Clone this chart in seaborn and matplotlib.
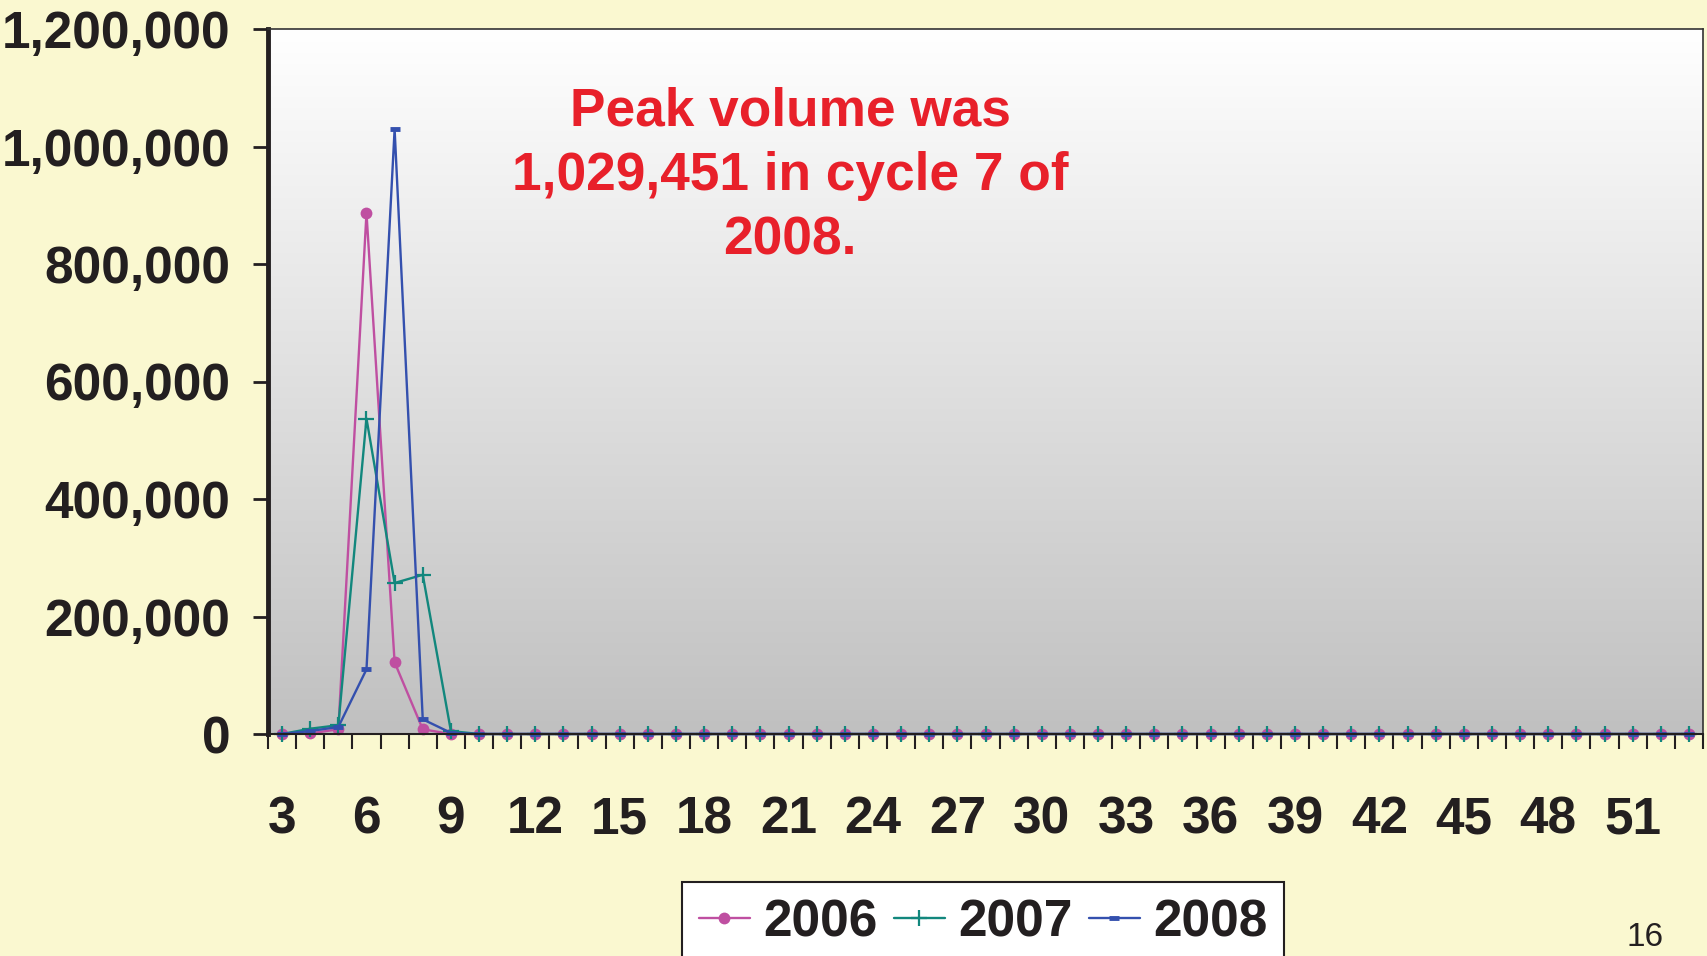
import numpy as np
import pandas as pd
import matplotlib
matplotlib.use("Agg")
import matplotlib.pyplot as plt
import seaborn as sns
from matplotlib.ticker import FuncFormatter, FixedLocator

sns.set_theme(style="white")
plt.rcParams['font.family'] = ['Liberation Sans', 'DejaVu Sans']

cycles = list(range(3, 54))
vol_2006 = [0, 1000, 8000, 887000, 122000, 8000, 0, 0, 0, 0, 0, 0, 0, 0, 0, 0, 0,
            0, 0, 0, 0, 0, 0, 0, 0, 0, 0, 0, 0, 0, 0, 0, 0, 0, 0, 0, 0, 0, 0, 0, 0,
            0, 0, 0, 0, 0, 0, 0, 0, 0, 0]
vol_2007 = [0, 9000, 15000, 537000, 257000, 271000, 5000, 0, 0, 0, 0, 0, 0, 0, 0, 0, 0,
            0, 0, 0, 0, 0, 0, 0, 0, 0, 0, 0, 0, 0, 0, 0, 0, 0, 0, 0, 0, 0, 0, 0, 0,
            0, 0, 0, 0, 0, 0, 0, 0, 0, 0]
vol_2008 = [0, 5000, 12000, 110000, 1029451, 25000, 2000, 0, 0, 0, 0, 0, 0, 0, 0, 0, 0,
            0, 0, 0, 0, 0, 0, 0, 0, 0, 0, 0, 0, 0, 0, 0, 0, 0, 0, 0, 0, 0, 0, 0, 0,
            0, 0, 0, 0, 0, 0, 0, 0, 0, 0]
years = ["2006", "2007", "2008"]
xtick_labels = list(range(3, 52, 3))
ytick_values = [0, 200000, 400000, 600000, 800000, 1000000, 1200000]
annotation = "Peak volume was\n1,029,451 in cycle 7 of\n2008."
page_number = "16"

df = pd.DataFrame({"cycle": cycles, "2006": vol_2006, "2007": vol_2007, "2008": vol_2008})

colors = {"2006": "#BF4FA1", "2007": "#12877D", "2008": "#3450AE"}
styles = {
    "2006": dict(marker="o", markersize=8.5, markeredgewidth=0),
    "2007": dict(marker="+", markersize=12, markeredgewidth=1.6),
    "2008": dict(marker="_", markersize=7, markeredgewidth=3.5),
}

fig = plt.figure(figsize=(17.08, 9.56), dpi=100)
fig.patch.set_facecolor("#FAF8D0")

pos = [268 / 1708, 1 - 734 / 956, (1703 - 268) / 1708, (734 - 29) / 956]
bg = fig.add_axes(pos, zorder=0)
grad = np.linspace(1.0, 0.0, 256).reshape(-1, 1)
top = np.array([1.0, 1.0, 1.0])
bot = np.array([192, 192, 192]) / 255
img = (grad[..., None] * top + (1 - grad[..., None]) * bot)
bg.imshow(img, aspect="auto", extent=[0, 1, 0, 1], interpolation="bilinear")
bg.set_axis_off()

ax = fig.add_axes(pos, zorder=1)
ax.set_facecolor("none")

for y in years:
    sns.lineplot(data=df, x="cycle", y=y, ax=ax, color=colors[y], linewidth=1.7,
                 label=y, legend=False, clip_on=False,
                 markeredgecolor=colors[y], markerfacecolor=colors[y], **styles[y])

ax.set_xlim(2.5, 53.5)
ax.set_ylim(0, 1200000)
ax.set_xlabel("")
ax.set_ylabel("")

ax.yaxis.set_major_locator(FixedLocator(ytick_values))
ax.yaxis.set_major_formatter(FuncFormatter(lambda v, p: f"{int(v):,}"))
ax.xaxis.set_major_locator(FixedLocator(xtick_labels))
ax.xaxis.set_minor_locator(FixedLocator(np.arange(2.5, 54, 1.0)))

ax.tick_params(axis="y", which="major", direction="out", length=11, width=2,
               color="#231F20", pad=16, labelsize=37, labelcolor="#231F20", left=True)
ax.tick_params(axis="x", which="major", length=0, pad=44, labelsize=37,
               labelcolor="#231F20", bottom=True)
ax.tick_params(axis="x", which="minor", direction="out", length=11, width=1.5,
               color="#231F20", bottom=True)
for lab in ax.get_yticklabels() + ax.get_xticklabels():
    lab.set_fontweight("bold")

ax.spines["left"].set_linewidth(3.5)
ax.spines["left"].set_color("#231F20")
ax.spines["bottom"].set_linewidth(1.5)
ax.spines["bottom"].set_color("#231F20")
for s in ["top", "right"]:
    ax.spines[s].set_linewidth(1.2)
    ax.spines[s].set_color("#333333")

fig.text(790 / 1708, 1 - 87 / 956, annotation, color="#E8202A", fontsize=38.3,
         fontweight="bold", ha="center", va="top", linespacing=1.36)

handles, labels = ax.get_legend_handles_labels()
leg = fig.legend(handles, labels, loc="upper center", ncol=3,
                 bbox_to_anchor=(983 / 1708, 1 - 882 / 956), frameon=True,
                 fancybox=False, edgecolor="#231F20", facecolor="white",
                 framealpha=1, handlelength=1.0, handletextpad=0.25,
                 columnspacing=0.32, borderpad=0.32, borderaxespad=0,
                 prop={"weight": "bold", "size": 37})
leg.get_frame().set_linewidth(1.5)
for t in leg.get_texts():
    t.set_color("#231F20")

fig.text(1645 / 1708, 1 - 953 / 956, page_number, fontsize=24, color="#231F20",
         ha="center", va="bottom")

fig.savefig("out.png", dpi=100, facecolor=fig.get_facecolor())
